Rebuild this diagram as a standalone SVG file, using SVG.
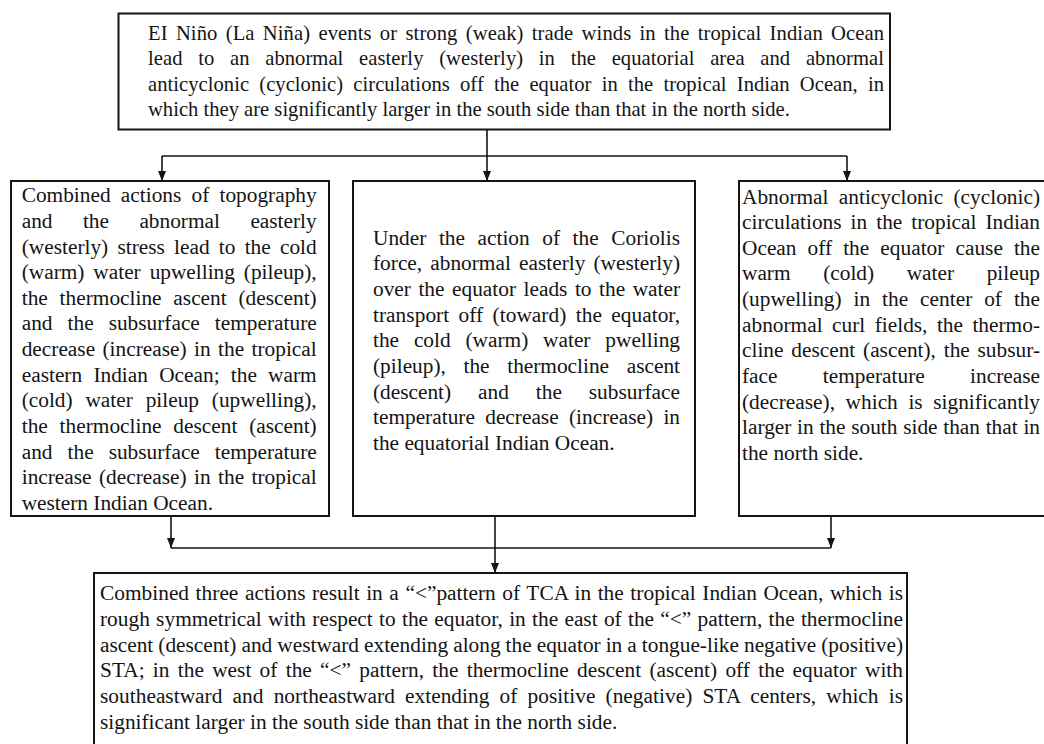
<svg xmlns="http://www.w3.org/2000/svg" width="1044" height="744" viewBox="0 0 1044 744">
<defs>
<style>
.box{fill:#fff;stroke:#151515;stroke-width:2}
.t{font-family:"Liberation Serif","Times New Roman",serif;font-size:21.33px;fill:#141414}
.ts{font-size:20.6px}
.c{fill:none;stroke:#151515;stroke-width:1.6}
</style>
<marker id="ah" markerUnits="userSpaceOnUse" markerWidth="10" markerHeight="8" refX="10" refY="4" orient="auto">
<path d="M0,0 L10,4 L0,8 z" fill="#151515"/>
</marker>
</defs>
<rect width="1044" height="744" fill="#fff"/>

<g id="connectors">
<path class="c" d="M487,130 V181" marker-end="url(#ah)"/>
<path class="c" d="M162,156 H847"/>
<path class="c" d="M162,156 V181" marker-end="url(#ah)"/>
<path class="c" d="M847,156 V181" marker-end="url(#ah)"/>
<path class="c" d="M171,516 V548" marker-end="url(#ah)"/>
<path class="c" d="M831,516 V548" marker-end="url(#ah)"/>
<path class="c" d="M171,548 H831"/>
<path class="c" d="M495,516 V573" marker-end="url(#ah)"/>
</g>

<g id="top">
<rect class="box" x="118.5" y="13.5" width="771.5" height="116"/>
<text class="t ts" x="148" y="39.5" style="word-spacing:3px" textLength="736" lengthAdjust="spacing">EI Niño (La Niña) events or strong (weak) trade winds in the tropical Indian Ocean</text>
<text class="t ts" x="148" y="65.15" style="word-spacing:10.5px" textLength="736" lengthAdjust="spacing">lead to an abnormal easterly (westerly) in the equatorial area and abnormal</text>
<text class="t ts" x="148" y="90.8" style="word-spacing:5px" textLength="736" lengthAdjust="spacing">anticyclonic (cyclonic) circulations off the equator in the tropical Indian Ocean, in</text>
<text class="t ts" x="148" y="116.45">which they are significantly larger in the south side than that in the north side.</text>
</g>

<g id="left">
<rect class="box" x="11" y="181" width="318" height="335"/>
<text class="t" x="21.7" y="202.2" style="word-spacing:4.9px" textLength="295" lengthAdjust="spacing">Combined actions of topography</text>
<text class="t" x="21.7" y="227.85" style="word-spacing:25.1px" textLength="295" lengthAdjust="spacing">and the abnormal easterly</text>
<text class="t" x="21.7" y="253.5" style="word-spacing:3.9px" textLength="295" lengthAdjust="spacing">(westerly) stress lead to the cold</text>
<text class="t" x="21.7" y="279.15" style="word-spacing:3.6px" textLength="295" lengthAdjust="spacing">(warm) water upwelling (pileup),</text>
<text class="t" x="21.7" y="304.8" style="word-spacing:6.5px" textLength="295" lengthAdjust="spacing">the thermocline ascent (descent)</text>
<text class="t" x="21.7" y="330.45" style="word-spacing:9.7px" textLength="295" lengthAdjust="spacing">and the subsurface temperature</text>
<text class="t" x="21.7" y="356.1" style="word-spacing:2.1px" textLength="295" lengthAdjust="spacing">decrease (increase) in the tropical</text>
<text class="t" x="21.7" y="381.75" style="word-spacing:5.9px" textLength="295" lengthAdjust="spacing">eastern Indian Ocean; the warm</text>
<text class="t" x="21.7" y="407.4" style="word-spacing:7.5px" textLength="295" lengthAdjust="spacing">(cold) water pileup (upwelling),</text>
<text class="t" x="21.7" y="433.05" style="word-spacing:6.5px" textLength="295" lengthAdjust="spacing">the thermocline descent (ascent)</text>
<text class="t" x="21.7" y="458.7" style="word-spacing:9.7px" textLength="295" lengthAdjust="spacing">and the subsurface temperature</text>
<text class="t" x="21.7" y="484.35" style="word-spacing:2.1px" textLength="295" lengthAdjust="spacing">increase (decrease) in the tropical</text>
<text class="t" x="21.7" y="510">western Indian Ocean.</text>
</g>

<g id="middle">
<rect class="box" x="353" y="181" width="342" height="335"/>
<text class="t" x="373" y="244.8" style="word-spacing:7.3px" textLength="307" lengthAdjust="spacing">Under the action of the Coriolis</text>
<text class="t" x="373" y="270.45" style="word-spacing:2.8px" textLength="307" lengthAdjust="spacing">force, abnormal easterly (westerly)</text>
<text class="t" x="373" y="296.1" style="word-spacing:2.2px" textLength="307" lengthAdjust="spacing">over the equator leads to the water</text>
<text class="t" x="373" y="321.75" style="word-spacing:4px" textLength="307" lengthAdjust="spacing">transport off (toward) the equator,</text>
<text class="t" x="373" y="347.4" style="word-spacing:9.5px" textLength="307" lengthAdjust="spacing">the cold (warm) water pwelling</text>
<text class="t" x="373" y="373.05" style="word-spacing:12.3px" textLength="307" lengthAdjust="spacing">(pileup), the thermocline ascent</text>
<text class="t" x="373" y="398.7" style="word-spacing:21.6px" textLength="307" lengthAdjust="spacing">(descent) and the subsurface</text>
<text class="t" x="373" y="424.35" style="word-spacing:5px" textLength="307" lengthAdjust="spacing">temperature decrease (increase) in</text>
<text class="t" x="373" y="450">the equatorial Indian Ocean.</text>
</g>

<g id="right">
<rect class="box" x="739" y="181" width="312" height="335"/>
<text class="t" x="742" y="203.5" style="word-spacing:5px" textLength="298" lengthAdjust="spacing">Abnormal anticyclonic (cyclonic)</text>
<text class="t" x="742" y="229.15" style="word-spacing:3.7px" textLength="298" lengthAdjust="spacing">circulations in the tropical Indian</text>
<text class="t" x="742" y="254.8" style="word-spacing:5.7px" textLength="298" lengthAdjust="spacing">Ocean off the equator cause the</text>
<text class="t" x="742" y="280.45" style="word-spacing:27.3px" textLength="298" lengthAdjust="spacing">warm (cold) water pileup</text>
<text class="t" x="742" y="306.1" style="word-spacing:6.6px" textLength="298" lengthAdjust="spacing">(upwelling) in the center of the</text>
<text class="t" x="742" y="331.75" style="word-spacing:4.1px" textLength="298" lengthAdjust="spacing">abnormal curl fields, the thermo-</text>
<text class="t" x="742" y="357.4" style="word-spacing:2.4px" textLength="298" lengthAdjust="spacing">cline descent (ascent), the subsur-</text>
<text class="t" x="742" y="383.05" style="word-spacing:40px" textLength="298" lengthAdjust="spacing">face temperature increase</text>
<text class="t" x="742" y="408.7" style="word-spacing:5.3px" textLength="298" lengthAdjust="spacing">(decrease), which is significantly</text>
<text class="t" x="742" y="434.35" style="word-spacing:0.3px" textLength="298" lengthAdjust="spacing">larger in the south side than that in</text>
<text class="t" x="742" y="460">the north side.</text>
</g>

<g id="bottom">
<rect class="box" x="94" y="573" width="813" height="180"/>
<text class="t" x="100" y="600.3" style="word-spacing:1.2px" textLength="803" lengthAdjust="spacing">Combined three actions result in a “&lt;”pattern of TCA in the tropical Indian Ocean, which is</text>
<text class="t" x="100" y="625.95" style="word-spacing:0.9px" textLength="803" lengthAdjust="spacing">rough symmetrical with respect to the equator, in the east of the “&lt;” pattern, the thermocline</text>
<text class="t" x="100" y="651.6" style="word-spacing:-0.3px" textLength="803" lengthAdjust="spacing">ascent (descent) and westward extending along the equator in a tongue-like negative (positive)</text>
<text class="t" x="100" y="677.25" style="word-spacing:2.9px" textLength="803" lengthAdjust="spacing">STA; in the west of the “&lt;” pattern, the thermocline descent (ascent) off the equator with</text>
<text class="t" x="100" y="702.9" style="word-spacing:4.8px" textLength="803" lengthAdjust="spacing">southeastward and northeastward extending of positive (negative) STA centers, which is</text>
<text class="t" x="100" y="728.55">significant larger in the south side than that in the north side.</text>
</g>
</svg>
